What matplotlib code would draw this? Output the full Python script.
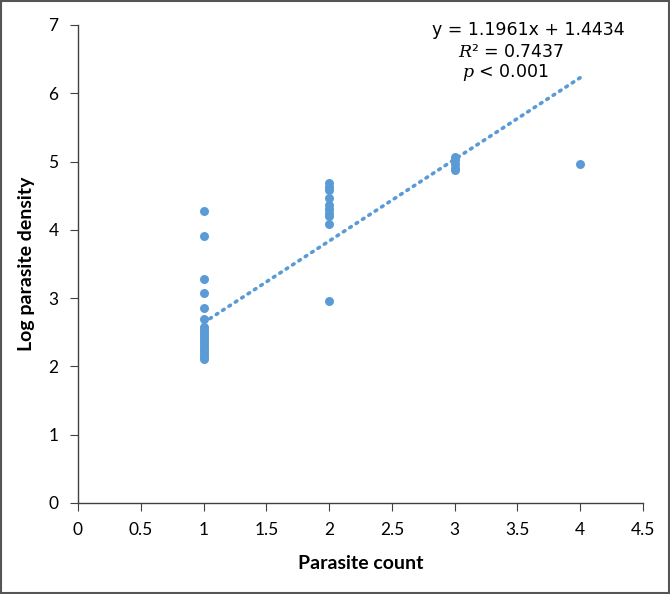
import numpy as np
import matplotlib
matplotlib.use('Agg')
import matplotlib.pyplot as plt
from matplotlib.patches import Rectangle

# parasite count vs log parasite density
count_1 = [1]*19
dens_1 = [4.28, 3.91, 3.28, 3.08, 2.86, 2.69, 2.58, 2.54, 2.50, 2.46, 2.42, 2.38,
          2.34, 2.30, 2.26, 2.22, 2.18, 2.14, 2.11]
count_2 = [2]*10
dens_2 = [4.68, 4.63, 4.58, 4.46, 4.36, 4.30, 4.25, 4.20, 4.08, 2.96]
count_3 = [3]*5
dens_3 = [5.07, 5.02, 4.96, 4.91, 4.87]
count_4 = [4]
dens_4 = [4.96]

slope = 1.1961
intercept = 1.4434

xticks = [0, 0.5, 1, 1.5, 2, 2.5, 3, 3.5, 4, 4.5]
yticks = [0, 1, 2, 3, 4, 5, 6, 7]

blue = '#5b9bd5'
plt.rcParams['font.family'] = ['Lato', 'DejaVu Sans']

fig = plt.figure(figsize=(6.7, 5.94), dpi=100)
ax = fig.add_axes([0.1164, 0.1532, 0.8433, 0.8048])

x = np.array(count_1 + count_2 + count_3 + count_4, dtype=float)
y = np.array(dens_1 + dens_2 + dens_3 + dens_4)
ax.scatter(x, y, s=42, color=blue, zorder=3, linewidths=0)

xl = np.linspace(1, 4, 50)
ax.plot(xl, slope*xl + intercept, color=blue, lw=2.6, linestyle=(0, (0.5, 1.6)),
        dash_capstyle='round', zorder=2)

ax.set_xlim(0, 4.5)
ax.set_ylim(0, 7)
ax.set_xticks(xticks)
ax.set_xticklabels([f'{t:g}' for t in xticks])
ax.set_yticks(yticks)
for s in ['top', 'right']:
    ax.spines[s].set_visible(False)
for s in ['left', 'bottom']:
    ax.spines[s].set_color('#404040')
    ax.spines[s].set_linewidth(1.0)
ax.tick_params(axis='both', direction='out', length=6, color='#404040',
               labelsize=12.5, pad=8)
ax.set_xlabel('Parasite count', fontsize=14, fontweight='bold', labelpad=12)
ax.set_ylabel('Log parasite density', fontsize=14, fontweight='bold', labelpad=10)

ax.text(3.584, 6.93, 'y = 1.1961x + 1.4434', ha='center', va='center',
        fontsize=12.5, family='DejaVu Sans')
ax.text(3.449, 6.60, '$R$² = 0.7437', ha='center', va='center',
        fontsize=12.5, family='DejaVu Sans', math_fontfamily='dejavuserif')
ax.text(3.401, 6.31, '$p$ < 0.001', ha='center', va='center',
        fontsize=12.5, family='DejaVu Sans', math_fontfamily='dejavuserif')

fig.patches.append(Rectangle((0.002, 0.002), 0.996, 0.996, transform=fig.transFigure,
                             fill=False, edgecolor='#555555', lw=1.5))

fig.savefig('out.png', dpi=100)
